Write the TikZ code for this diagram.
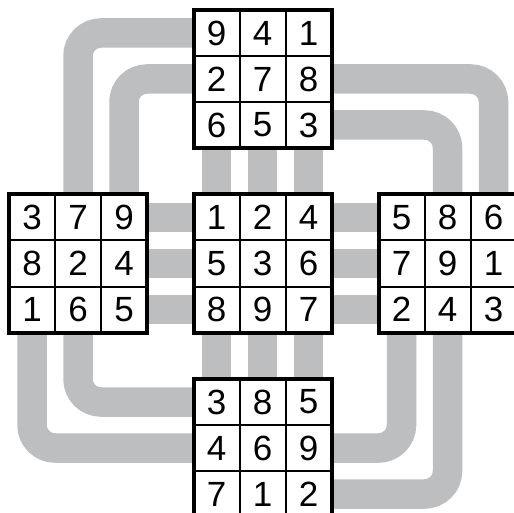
\documentclass[tikz,border=0pt]{standalone}
\usepackage{fontspec}
\setmainfont{Liberation Sans}
\pgfdeclarelayer{bg}
\pgfsetlayers{bg,main}
\definecolor{bandgray}{RGB}{189,190,192}
\tikzset{
  cell/.style={draw=black, line width=2pt, fill=white, minimum size=46pt,
    inner sep=0pt, outer sep=0pt, font=\fontsize{35}{35}\selectfont},
  gridframe/.style={draw=black, line width=4pt},
  band/.style={draw=bandgray, line width=29.5pt, rounded corners=23pt},
}
\newcommand\mkgrid[4]{%
  \foreach \d [count=\i from 0] in {#4} {
    \pgfmathtruncatemacro\rr{div(\i,3)+1}
    \pgfmathtruncatemacro\cc{mod(\i,3)+1}
    \node[cell] (#1\rr\cc) at ({#2+46*(\cc-0.5)},{#3+46*(\rr-0.5)}) {\d};
  }
  \draw[gridframe] (#2,#3) rectangle ++(138,138);
}
\begin{document}
\begin{tikzpicture}[x=1pt,y=-1pt]
\useasboundingbox (0,0) rectangle (514,513);
\clip (0,0) rectangle (514,513);
\mkgrid{t}{193.5}{10}{9,4,1,2,7,8,6,5,3}
\mkgrid{l}{9}{194.5}{3,7,9,8,2,4,1,6,5}
\mkgrid{c}{193.5}{194.5}{1,2,4,5,3,6,8,9,7}
\mkgrid{r}{378.5}{194.5}{5,8,6,7,9,1,2,4,3}
\mkgrid{b}{193.5}{379}{3,8,5,4,6,9,7,1,2}
\begin{pgfonlayer}{bg}
  % straight links
  \foreach \k in {1,2,3} {
    \draw[band] (l\k3.center) -- (c\k1.center);
    \draw[band] (c\k3.center) -- (r\k1.center);
    \draw[band] (t3\k.center) -- (c1\k.center);
    \draw[band] (c3\k.center) -- (b1\k.center);
  }
  % outer loops
  \draw[band] (t11.center) -| (l12.center);
  \draw[band] (t21.center) -| (l13.center);
  \draw[band] (t23.center) -| (r13.center);
  \draw[band] (t33.center) -| (r12.center);
  \draw[band] (l31.center) |- (b21.center);
  \draw[band] (l32.center) |- (b11.center);
  \draw[band] (r31.center) |- (b23.center);
  \draw[band] (r32.center) |- (b33.center);
\end{pgfonlayer}
\end{tikzpicture}
\end{document}
